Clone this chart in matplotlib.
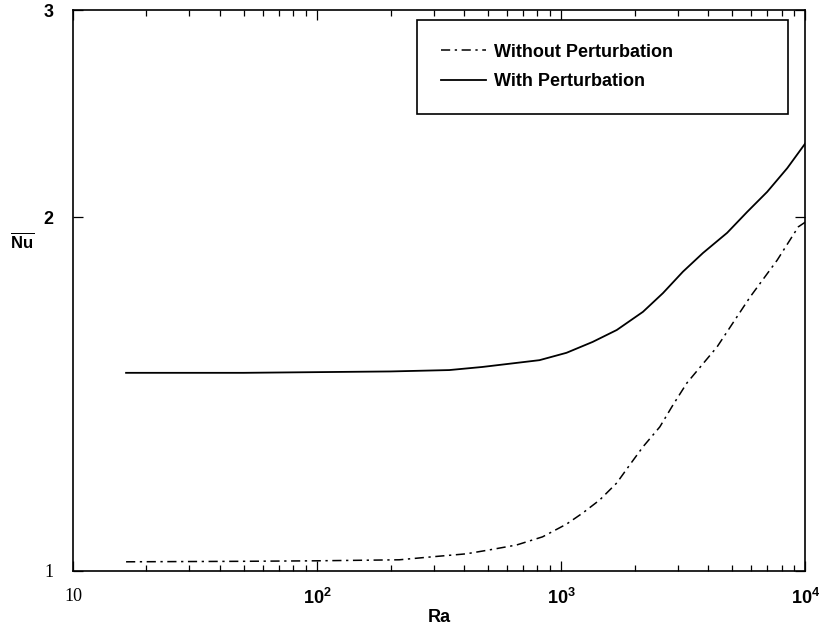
import matplotlib
matplotlib.use("Agg")
import matplotlib.pyplot as plt
from matplotlib.ticker import FixedLocator, FixedFormatter, NullLocator, LogLocator

plt.rcParams['font.family'] = ['Liberation Sans', 'DejaVu Sans']
plt.rcParams['mathtext.fontset'] = 'custom'
plt.rcParams['mathtext.rm'] = 'Liberation Sans'
plt.rcParams['mathtext.bf'] = 'Liberation Sans:bold'
plt.rcParams['mathtext.it'] = 'Liberation Sans:italic'

# data
ra_with = [16.5, 30, 50, 100, 200, 348, 475, 815, 1052, 1346, 1690, 2163, 2612,
           3155, 3811, 4786, 5780, 6982, 8440, 10000]
nu_with = [1.474, 1.474, 1.474, 1.476, 1.478, 1.482, 1.491, 1.511, 1.533, 1.566, 1.603,
           1.661, 1.723, 1.797, 1.864, 1.939, 2.020, 2.101, 2.201, 2.31]

ra_without = [16.5, 50, 100, 217, 296, 408, 508, 656, 839, 1052, 1225, 1438, 1690,
              1911, 2163, 2537, 2871, 3275, 4355, 5943, 7674, 9370, 10000]
nu_without = [1.018, 1.019, 1.020, 1.022, 1.028, 1.034, 1.042, 1.052, 1.069, 1.096,
              1.120, 1.149, 1.188, 1.231, 1.275, 1.326, 1.384, 1.445, 1.551, 1.710,
              1.838, 1.962, 1.98]

x_ticks = [10, 100, 1000, 10000]
x_labels = ['10', r'$\mathbf{10^2}$', r'$\mathbf{10^3}$', r'$\mathbf{10^4}$']
y_ticks = [1, 2, 3]
y_labels = ['1', '2', '3']

fig = plt.figure(figsize=(8.2, 6.26), dpi=100)
ax = fig.add_axes([0.089, 0.088, 0.893, 0.896])

ax.plot(ra_without, nu_without, color='black', lw=1.1, dashes=(6, 3, 1.5, 3),
        label='Without Perturbation')
ax.plot(ra_with, nu_with, color='black', lw=1.3, label='With Perturbation')

ax.set_xscale('log')
ax.set_yscale('log')
ax.set_xlim(10, 10000)
ax.set_ylim(1, 3)

ax.xaxis.set_major_locator(FixedLocator(x_ticks))
ax.xaxis.set_major_formatter(FixedFormatter(x_labels))
ax.xaxis.set_minor_locator(LogLocator(base=10, subs=range(2, 10)))
ax.yaxis.set_major_locator(FixedLocator(y_ticks))
ax.yaxis.set_major_formatter(FixedFormatter(y_labels))
ax.yaxis.set_minor_locator(NullLocator())

ax.tick_params(which='both', direction='in', top=True, right=True, width=0.9)
ax.tick_params(which='major', length=7)
ax.tick_params(which='minor', length=4)
ax.tick_params(axis='x', pad=12, labelsize=13)
ax.tick_params(axis='y', pad=14, labelsize=13)

for lab in ax.get_xticklabels():
    if lab.get_text() == '10':
        lab.set_family('Liberation Serif')
for lab in ax.get_yticklabels():
    if lab.get_text() == '1':
        lab.set_family('Liberation Serif')
    else:
        lab.set_fontweight('bold')

for s in ax.spines.values():
    s.set_linewidth(1.2)

ax.set_xlabel('Ra', fontsize=13, fontweight='bold', labelpad=1)
fig.text(0.027, 0.615, r'$\overline{\mathbf{Nu}}$', fontsize=12, ha='center', va='center')

leg = ax.legend(loc='upper left', bbox_to_anchor=(0.47, 0.5, 0.507, 0.482), mode='expand',
                prop={'weight': 'bold', 'size': 13}, handlelength=2.5,
                handletextpad=0.45, labelspacing=0.7, borderpad=1.3,
                borderaxespad=0, fancybox=False, edgecolor='black', framealpha=1)
leg.get_frame().set_linewidth(1.2)

fig.savefig('out.png', dpi=100)
